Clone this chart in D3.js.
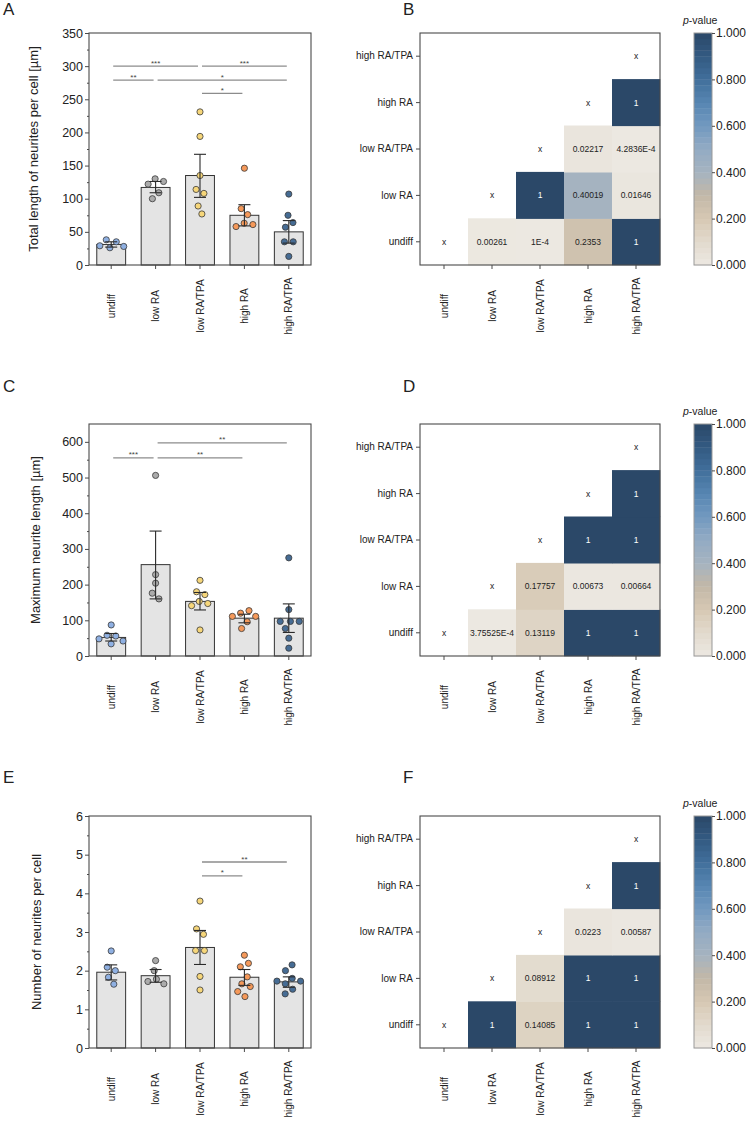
<!DOCTYPE html>
<html>
<head>
<meta charset="utf-8">
<script src="https://cdn.jsdelivr.net/npm/d3@7"></script>
<style>
  body { margin: 0; background: #fff; }
  svg { font-family: "Liberation Sans", Arial, sans-serif; }
</style>
</head>
<body>
<svg id="fig"></svg>
<script>
// groups shared by all panels
const groups = ["undiff", "low RA", "low RA/TPA", "high RA", "high RA/TPA"];
const groupColors = ["#8fb0e2", "#ababab", "#f6d67a", "#f5995a", "#466c94"];

// A - total length of neurites per cell
const lenMean = [31, 117, 135, 75, 50];
const lenErrLo = [27, 109, 102, 59, 33];
const lenErrHi = [35, 126, 167, 91, 67];
const lenPoints = [
    [38, 35, 28, 26, 29],
    [130, 126, 122, 109, 100],
    [231, 194, 135, 114, 108, 89, 77],
    [146, 85, 76, 63, 61, 58],
    [107, 75, 64, 57, 35, 35, 13]
];
const lenSig = [
    { a: 0, b: 2, y: 300, t: "***" }, { a: 2, b: 4, y: 300, t: "***" },
    { a: 0, b: 1, y: 279, t: "**" }, { a: 1, b: 4, y: 279, t: "*" },
    { a: 2, b: 3, y: 259, t: "*" }
];

// C - maximum neurite length
const maxMean = [52, 256, 153, 106, 106];
const maxErrLo = [42, 160, 129, 93, 66];
const maxErrHi = [63, 350, 178, 117, 146];
const maxPoints = [
    [87, 58, 56, 48, 42, 34],
    [506, 228, 204, 176, 160],
    [212, 180, 172, 153, 147, 141, 73],
    [127, 120, 111, 111, 96, 77],
    [275, 130, 97, 97, 97, 77, 50, 22]
];
const maxSig = [
    { a: 1, b: 4, y: 597, t: "**" },
    { a: 0, b: 1, y: 555, t: "***" }, { a: 1, b: 3, y: 555, t: "**" }
];

// E - number of neurites per cell
const numMean = [1.96, 1.87, 2.60, 1.83, 1.71];
const numErrLo = [1.76, 1.70, 2.16, 1.62, 1.57];
const numErrHi = [2.15, 2.03, 3.04, 2.03, 1.84];
const numPoints = [
    [2.51, 2.09, 2.0, 1.83, 1.65],
    [2.26, 2.0, 1.78, 1.72, 1.66],
    [3.8, 3.08, 2.94, 2.52, 2.52, 1.85, 1.5],
    [2.4, 2.19, 2.1, 1.84, 1.66, 1.59, 1.46, 1.33],
    [2.15, 2.0, 1.8, 1.73, 1.73, 1.66, 1.52, 1.4]
];
const numSig = [
    { a: 2, b: 4, y: 4.81, t: "**" }, { a: 2, b: 3, y: 4.45, t: "*" }
];

// p-value matrices, row 0 = undiff (bottom row)
const pLen = [
    ["x", "0.00261", "1E-4", "0.2353", "1"],
    ["", "x", "1", "0.40019", "0.01646"],
    ["", "", "x", "0.02217", "4.2836E-4"],
    ["", "", "", "x", "1"],
    ["", "", "", "", "x"]
];
const pMax = [
    ["x", "3.75525E-4", "0.13119", "1", "1"],
    ["", "x", "0.17757", "0.00673", "0.00664"],
    ["", "", "x", "1", "1"],
    ["", "", "", "x", "1"],
    ["", "", "", "", "x"]
];
const pNum = [
    ["x", "1", "0.14085", "1", "1"],
    ["", "x", "0.08912", "1", "1"],
    ["", "", "x", "0.0223", "0.00587"],
    ["", "", "", "x", "1"],
    ["", "", "", "", "x"]
];

// colour map of the p-value scale
const pStops = [0, 0.1, 0.2, 0.3, 0.4, 0.5, 0.6, 0.7, 0.8, 0.9, 1];
const pColors = ["#ece8e1", "#e2dacd", "#d6c8b3", "#c3b8a7", "#a5b3c0", "#93abc3",
                 "#7299c0", "#5786b2", "#416f9b", "#335a82", "#2b4868"];

const W = 749, H = 1121;
const svg = d3.select("#fig").attr("width", W).attr("height", H);
svg.append("rect").attr("width", W).attr("height", H).attr("fill", "#fff");

const axisColor = "#4a4a4a";
const pColor = d3.scaleLinear().domain(pStops).range(pColors).clamp(true);

function styleAxis(ax) {
    ax.select(".domain").remove();
    ax.selectAll("line").attr("stroke", axisColor);
    ax.selectAll("text").attr("fill", "#222");
}

function drawBars(opt) {
    const left = 89, right = 311, top = opt.top, bottom = opt.top + 232;
    const g = svg.append("g");

    const x = d3.scaleBand().domain(groups).range([left, right])
        .paddingInner(0.35).paddingOuter(0.175);
    const y = d3.scaleLinear().domain([0, opt.max]).range([bottom, top]);
    const cx = i => x(groups[i]) + x.bandwidth() / 2;

    // minor ticks
    const minorAx = g.append("g").attr("transform", `translate(${left},0)`)
        .call(d3.axisLeft(y).tickValues(d3.range(opt.minor, opt.max, opt.step)).tickSize(2).tickFormat(""));
    styleAxis(minorAx);
    const yAx = g.append("g").attr("transform", `translate(${left},0)`)
        .call(d3.axisLeft(y).tickValues(d3.range(0, opt.max + 1e-9, opt.step))
            .tickFormat(d3.format("~g")).tickSize(4).tickPadding(2));
    styleAxis(yAx);
    yAx.selectAll("text").style("font-size", "12.5px");

    const xAx = g.append("g").attr("transform", `translate(0,${bottom})`)
        .call(d3.axisBottom(x).tickSize(4));
    styleAxis(xAx);
    xAx.selectAll("text")
        .style("font-size", "10px")
        .attr("transform", "rotate(-90)")
        .attr("text-anchor", "middle")
        .attr("x", -41).attr("y", 0).attr("dy", "0.35em");

    // bars
    g.selectAll(".bar").data(opt.mean).enter().append("rect")
        .attr("x", (d, i) => x(groups[i]))
        .attr("y", d => y(d))
        .attr("width", x.bandwidth())
        .attr("height", d => bottom - y(d))
        .attr("fill", "#e4e4e4")
        .attr("stroke", "#333").attr("stroke-width", 1);

    // points, spread sideways with a small beeswarm
    const r = 3.1;
    opt.points.forEach(function(vals, i) {
        const nodes = vals.map(v => ({ v: v, x: cx(i), y: y(v), fy: y(v) }));
        const sim = d3.forceSimulation(nodes)
            .force("x", d3.forceX(cx(i)).strength(0.06))
            .force("c", d3.forceCollide(r + 1.3))
            .stop();
        for (let k = 0; k < 200; k++) sim.tick();
        g.selectAll(null).data(nodes).enter().append("circle")
            .attr("cx", d => d.x).attr("cy", d => d.fy).attr("r", r)
            .attr("fill", groupColors[i])
            .attr("stroke", "#3a3a3a").attr("stroke-width", 0.8);
    });

    // error bars
    const cap = 6;
    opt.mean.forEach(function(m, i) {
        const c = cx(i);
        const e = g.append("g").attr("stroke", "#2a2a2a").attr("stroke-width", 1.1);
        e.append("line").attr("x1", c).attr("x2", c).attr("y1", y(opt.lo[i])).attr("y2", y(opt.hi[i]));
        e.append("line").attr("x1", c - cap).attr("x2", c + cap).attr("y1", y(opt.lo[i])).attr("y2", y(opt.lo[i]));
        e.append("line").attr("x1", c - cap).attr("x2", c + cap).attr("y1", y(opt.hi[i])).attr("y2", y(opt.hi[i]));
    });

    // significance lines
    opt.sig.forEach(function(s) {
        const x1 = cx(s.a) + 2, x2 = cx(s.b) - 2;
        g.append("line").attr("x1", x1).attr("x2", x2).attr("y1", y(s.y)).attr("y2", y(s.y))
            .attr("stroke", "#8c8c8c").attr("stroke-width", 1.3);
        g.append("text").attr("x", (x1 + x2) / 2).attr("y", y(s.y) - 0.5)
            .attr("text-anchor", "middle").style("font-size", "8px").attr("fill", "#444")
            .text(s.t);
    });

    // frame
    g.append("rect").attr("x", left).attr("y", top).attr("width", right - left).attr("height", bottom - top)
        .attr("fill", "none").attr("stroke", axisColor).attr("stroke-width", 1.1);

    // axis title
    g.append("text")
        .attr("transform", `translate(${opt.titleX},${(top + bottom) / 2}) rotate(-90)`)
        .attr("text-anchor", "middle").attr("dy", "0.35em")
        .style("font-size", "13px").attr("fill", "#222")
        .text(opt.title);

    svg.append("text").attr("x", 3).attr("y", opt.letterY).style("font-size", "17px").attr("fill", "#222").text(opt.letter);
}

function drawHeat(opt) {
    const left = 420, right = 660, top = opt.top, bottom = opt.top + 232;
    const g = svg.append("g");
    const x = d3.scaleBand().domain(groups).range([left, right]);
    const y = d3.scaleBand().domain(groups).range([bottom, top]);

    const cells = [];
    opt.p.forEach((row, ri) => row.forEach((t, ci) => { if (t !== "") cells.push({ r: ri, c: ci, t: t }); }));

    g.selectAll(".cell").data(cells.filter(d => d.t !== "x")).enter().append("rect")
        .attr("x", d => x(groups[d.c]))
        .attr("y", d => y(groups[d.r]) - 0.3)
        .attr("width", x.bandwidth() + 0.3)
        .attr("height", y.bandwidth() + 0.6)
        .attr("fill", d => pColor(+d.t));

    g.selectAll(".lab").data(cells).enter().append("text")
        .attr("x", d => x(groups[d.c]) + x.bandwidth() / 2)
        .attr("y", d => y(groups[d.r]) + y.bandwidth() / 2)
        .attr("dy", "0.35em").attr("text-anchor", "middle")
        .style("font-size", "8.5px")
        .attr("fill", d => (d.t !== "x" && +d.t > 0.6) ? "#fff" : "#222")
        .text(d => d.t);

    const yAx = g.append("g").attr("transform", `translate(${left},0)`)
        .call(d3.axisLeft(y).tickSize(4).tickPadding(3));
    styleAxis(yAx);
    yAx.selectAll("text").style("font-size", "10px");

    const xAx = g.append("g").attr("transform", `translate(0,${bottom})`)
        .call(d3.axisBottom(x).tickSize(4));
    styleAxis(xAx);
    xAx.selectAll("text")
        .style("font-size", "10px")
        .attr("transform", "rotate(-90)")
        .attr("text-anchor", "middle")
        .attr("x", -41).attr("y", 0).attr("dy", "0.35em");

    g.append("rect").attr("x", left).attr("y", top).attr("width", right - left).attr("height", bottom - top)
        .attr("fill", "none").attr("stroke", axisColor).attr("stroke-width", 1.1);

    // colour bar
    const cbX = 694, cbW = 18;
    const cy = d3.scaleLinear().domain([0, 1]).range([bottom, top]);
    const steps = d3.range(0, 1, 1 / 40);
    g.selectAll(".cb").data(steps).enter().append("rect")
        .attr("x", cbX).attr("width", cbW)
        .attr("y", d => cy(d + 1 / 40))
        .attr("height", cy(0) - cy(1 / 40) + 0.4)
        .attr("fill", d => pColor(d + 1 / 80));
    g.append("rect").attr("x", cbX).attr("y", top).attr("width", cbW).attr("height", bottom - top)
        .attr("fill", "none").attr("stroke", "#999").attr("stroke-width", 1);
    const cAx = g.append("g").attr("transform", `translate(${cbX + cbW},0)`)
        .call(d3.axisRight(cy).tickValues(pStops.filter((d, i) => i % 2 === 0)).tickFormat(d3.format(".3f")).tickSize(3).tickPadding(1));
    styleAxis(cAx);
    cAx.selectAll("text").style("font-size", "12px");

    const pt = g.append("text").attr("x", 683).attr("y", top - 9).style("font-size", "10.5px").attr("fill", "#222");
    pt.append("tspan").style("font-style", "italic").text("p");
    pt.append("tspan").text("-value");

    svg.append("text").attr("x", 403).attr("y", opt.letterY).style("font-size", "17px").attr("fill", "#222").text(opt.letter);
}

drawBars({ top: 33, max: 350, step: 50, minor: 25, mean: lenMean, lo: lenErrLo, hi: lenErrHi,
    points: lenPoints, sig: lenSig, title: "Total length of neurites per cell [µm]", titleX: 33, letter: "A", letterY: 15 });
drawBars({ top: 424, max: 650, step: 100, minor: 50, mean: maxMean, lo: maxErrLo, hi: maxErrHi,
    points: maxPoints, sig: maxSig, title: "Maximum neurite length [µm]", titleX: 35, letter: "C", letterY: 392 });
drawBars({ top: 816, max: 6, step: 1, minor: 0.5, mean: numMean, lo: numErrLo, hi: numErrHi,
    points: numPoints, sig: numSig, title: "Number of neurites per cell", titleX: 36, letter: "E", letterY: 783 });

drawHeat({ top: 33, p: pLen, letter: "B", letterY: 15 });
drawHeat({ top: 424, p: pMax, letter: "D", letterY: 392 });
drawHeat({ top: 816, p: pNum, letter: "F", letterY: 783 });
</script>
</body>
</html>
